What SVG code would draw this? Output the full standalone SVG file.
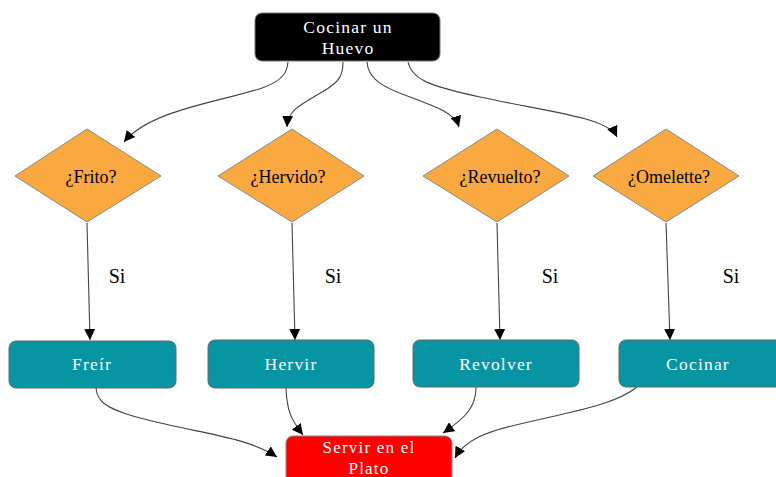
<svg xmlns="http://www.w3.org/2000/svg" width="776" height="477" viewBox="0 0 776 477">
<defs>
<marker id="ah" viewBox="0 0 10 10" refX="10" refY="5" markerWidth="11" markerHeight="11" markerUnits="userSpaceOnUse" orient="auto">
<path d="M0,0 L10,5 L0,10 Z" fill="#000"/>
</marker>
<style>
.edge{fill:none;stroke:#444;stroke-width:1.1;marker-end:url(#ah)}
.dia{fill:#FAA941;stroke:#888;stroke-width:1}
.box{fill:#0795A4;stroke:#666;stroke-width:1}
.lt{font-family:"Liberation Serif","DejaVu Serif",serif;font-size:17.5px;fill:#fff;letter-spacing:1.2px;text-anchor:middle}
.dt{font-family:"Liberation Serif","DejaVu Serif",serif;font-size:18px;fill:#000;text-anchor:middle}
.si{font-family:"Liberation Serif","DejaVu Serif",serif;font-size:20px;fill:#000;text-anchor:middle}
</style>
</defs>
<rect width="776" height="477" fill="#fff"/>
<g id="connectors">
<path class="edge" d="M288,62 C287,72 284,80 262,88 C220,102 150,110 124,142"/>
<path class="edge" d="M343,62 C343,75 340,82 322,92 C300,105 288,110 287,127"/>
<path class="edge" d="M367,62 C368,80 385,88 410,97 C440,108 455,114 459,127"/>
<path class="edge" d="M408,62 C412,80 430,86 480,97 C560,114 608,118 617,137"/>
<path class="edge" d="M87,223 L90,340"/>
<path class="edge" d="M292,223 L295,340"/>
<path class="edge" d="M497,223 L500,340"/>
<path class="edge" d="M666,223 L670,340"/>
<path class="edge" d="M96,388 C97,400 103,408 140,418 C200,434 245,436 277,457"/>
<path class="edge" d="M286,388 C287,410 290,418 303,435"/>
<path class="edge" d="M476,387 C476,408 465,418 443,433"/>
<path class="edge" d="M637,387 C615,405 570,412 520,424 C485,432 465,440 455,458"/>
</g>
<g id="n_start">
<rect x="255" y="13" width="185" height="48" rx="7" fill="#000" stroke="#777"/>
<text class="lt" x="348" y="33">Cocinar un</text>
<text class="lt" x="348" y="54">Huevo</text>
</g>
<g id="n_frito">
<polygon class="dia" points="87,129 161,176 87,222 15,176"/>
<text class="dt" x="91" y="183">¿Frito?</text>
</g>
<g id="n_hervido">
<polygon class="dia" points="292,129 364,176 292,222 218,176"/>
<text class="dt" x="288" y="183">¿Hervido?</text>
</g>
<g id="n_revuelto">
<polygon class="dia" points="497,129 569,176 497,222 423,176"/>
<text class="dt" x="500" y="183">¿Revuelto?</text>
</g>
<g id="n_omelette">
<polygon class="dia" points="666,129 739,176 666,222 593,176"/>
<text class="dt" x="669" y="183">¿Omelette?</text>
</g>
<g id="labels">
<text class="si" x="117" y="283">Si</text>
<text class="si" x="333" y="283">Si</text>
<text class="si" x="550" y="283">Si</text>
<text class="si" x="731" y="283">Si</text>
</g>
<g id="n_freir">
<rect class="box" x="9" y="341" width="167" height="47" rx="7"/>
<text class="lt" x="92" y="370">Freír</text>
</g>
<g id="n_hervir">
<rect class="box" x="208" y="340" width="166" height="48" rx="7"/>
<text class="lt" x="291" y="370">Hervir</text>
</g>
<g id="n_revolver">
<rect class="box" x="413" y="340" width="166" height="47" rx="7"/>
<text class="lt" x="496" y="370">Revolver</text>
</g>
<g id="n_cocinar">
<rect class="box" x="619" y="340" width="167" height="47" rx="7"/>
<text class="lt" x="698" y="370">Cocinar</text>
</g>
<g id="n_servir">
<rect x="286" y="436" width="166" height="50" rx="7" fill="#FF0000" stroke="#888"/>
<text class="lt" x="369" y="453" style="font-size:17px">Servir en el</text>
<text class="lt" x="369" y="474" style="font-size:17px">Plato</text>
</g>
</svg>
